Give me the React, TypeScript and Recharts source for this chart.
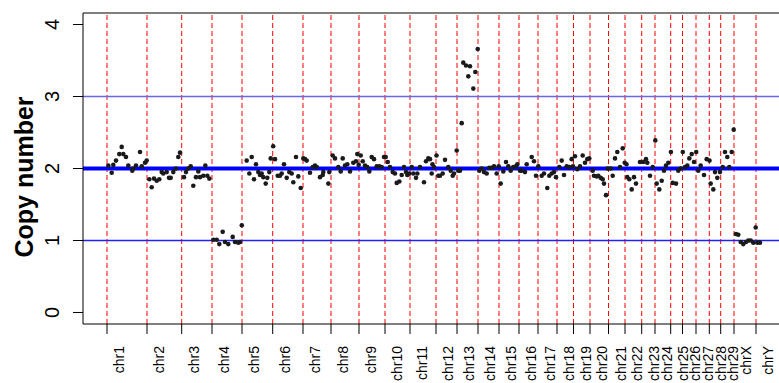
import React from 'react';
import { ScatterChart, Scatter, XAxis, YAxis, ReferenceLine } from 'recharts';

const chromNames = [
  'chr1', 'chr2', 'chr3', 'chr4', 'chr5', 'chr6', 'chr7', 'chr8', 'chr9', 'chr10',
  'chr11', 'chr12', 'chr13', 'chr14', 'chr15', 'chr16', 'chr17', 'chr18', 'chr19', 'chr20',
  'chr21', 'chr22', 'chr23', 'chr24', 'chr25', 'chr26', 'chr27', 'chr28', 'chr29', 'chrX', 'chrY'
];
const chromStarts = [
  24, 64, 98.7, 129, 159, 189.7, 220, 248, 276, 302,
  327, 353, 374, 395, 416, 436, 455, 474, 490.5, 507,
  525.5, 542, 558.7, 572, 587.7, 599.5, 613, 626.3, 637.7, 651, 673
];

// genome position of each probe (same units as chromStarts)
const probePos = [
  25.3, 28.7, 30.3, 33, 36.3, 38.7, 40.3, 43, 45.3, 49.3, 50.3, 53, 57, 58.7, 62, 63.7, // chr1
  66.3, 68.7, 71, 73.7, 76.3, 78.7, 80.3, 83.7, 86, 87.7, 90.3, 93, 95.3, 97, // chr2
  101, 103, 105.3, 107.7, 110.3, 113, 115.3, 117, 120.3, 122.3, 124.3, 126.3, // chr3
  130.3, 133.7, 136.3, 139.7, 142, 145.3, 149.7, 152, 155.3, 157, 158.8, // chr4
  163.7, 166.3, 168.7, 171, 173, 175.3, 177, 178.7, 180.3, 182.7, 184.3, 186.3, 187.7, // chr5
  190.2, 192, 194.7, 197, 198.7, 201, 203.7, 206.3, 208.7, 210.3, 213, 215.3, 217.7, // chr6
  220.3, 222, 223.7, 227, 229.7, 232, 233.7, 237, 239.7, 240.3, 245.3, 246.3, // chr7
  249.7, 252, 255.3, 257.7, 259.7, 262, 264.3, 267, 270.3, 273, 274.3, 275.7, // chr8
  277.7, 279.7, 282, 284.3, 286.3, 288.7, 291, 293.7, 296.3, 298.7, 301, // chr9
  302.7, 304.7, 307, 309.7, 312, 313.7, 316.3, 318.7, 321, 323, 324.3, 326.3, // chr10
  328.7, 330.3, 333, 334.3, 337, 341, 343, 345.3, 347, 348.7, 349.5, 351, // chr11
  353.5, 355.3, 357, 359.7, 362, 365.3, 367.7, 369.7, 371, 373.7, // chr12
  375.3, 377, 378.7, 380.3, 383, 385.3, 387, 390.3, 392.3, 394.7, // chr13
  396.3, 398.7, 401, 403.7, 406.3, 408.7, 411, 413.7, 415.7, // chr14
  417.7, 420.3, 423, 425.3, 427.7, 430.3, 433, 434.3, // chr15
  437, 438.7, 442, 443.7, 448.7, 451, 453, 455.3, // chr16
  458.7, 461, 464.3, 466.3, 468.7, 471, 473, // chr17
  476.3, 478.7, 481, 483.7, 486.3, 488.7, 490, // chr18
  492, 494.3, 497, 499.7, 502, 504.3, 506.3, // chr19
  509.7, 511, 513.7, 515.3, 517.7, 519.7, 521, 523, 524.7, // chr20
  527.7, 529.7, 532, 534.3, 537, 539.7, 541.7, // chr21
  543.5, 544.3, 546.3, 548.7, 551, 553, 557, // chr22
  560.3, 563, 564.3, 567, 569.7, // chr23
  572.3, 573.7, 576.3, 578.7, 581, 583, 585.3, 587.9, // chr24
  589.7, 593, 595.3, 597.7, 599.8, // chr25
  602, 604.3, 606.3, 608.7, 611, 613.2, // chr26
  615.3, 617.7, 621, 623.7, 626.5, // chr27
  627.7, 630.3, 632, 634.3, 637, // chr28
  639.7, 642, 644.3, 646.3, 648.7, 650.7, // chr29
  653, 655.3, 657.7, 660.3, 663, 665.3, 667.7, 670.3, 672.7, // chrX
  674.3, 677 // chrY
];

const copyNumbers = [
  2.04, 1.94, 2.05, 2.11, 2.2, 2.3, 2.2, 2.16, 2.04, 1.97, 2.0, 2.04, 2.23, 2.03, 2.08, 2.11,
  1.85, 1.74, 1.86, 1.83, 1.85, 1.95, 1.93, 1.95, 1.87, 1.87, 1.95, 2.0, 2.16, 2.22,
  1.88, 1.95, 2.0, 2.03, 1.76, 1.88, 1.96, 1.88, 1.9, 2.04, 1.9, 1.86,
  1.01, 1.01, 0.95, 1.12, 0.98, 0.95, 1.05, 0.98, 0.97, 0.98, 1.21,
  2.11, 1.93, 2.16, 1.85, 2.06, 1.95, 1.91, 1.93, 1.88, 1.79, 1.87, 1.95, 2.14,
  2.31, 2.13, 1.9, 1.9, 1.93, 2.06, 1.87, 1.95, 1.93, 1.81, 2.16, 1.89, 1.73,
  2.14, 2.13, 2.11, 1.94, 2.02, 2.04, 2.02, 1.88, 1.91, 1.95, 1.79, 1.95,
  2.18, 2.14, 2.02, 1.96, 2.14, 2.04, 2.06, 1.96, 2.08, 2.1, 2.2, 2.05,
  2.18, 2.1, 2.04, 2.02, 1.96, 2.16, 2.13, 2.03, 2.03, 2.02, 2.16,
  2.16, 2.09, 2.02, 1.95, 1.93, 1.8, 1.82, 1.91, 2.02, 1.95, 1.91, 1.93,
  2.02, 1.93, 1.87, 1.93, 2.02, 1.81, 2.1, 2.14, 2.13, 1.93, 2.06, 2.02,
  2.18, 1.9, 1.9, 1.93, 2.12, 2.02, 1.97, 1.9, 1.93, 2.25,
  1.97, 1.97, 2.63, 3.47, 3.43, 3.28, 3.42, 3.11, 3.34, 3.66,
  1.97, 2.0, 1.95, 1.93, 2.01, 2.01, 2.03, 1.93, 2.03,
  1.79, 1.96, 2.09, 2.03, 1.97, 2.02, 2.03, 2.06,
  1.97, 1.97, 1.95, 2.06, 2.16, 2.1, 1.9, 2.03,
  1.9, 1.93, 1.73, 1.9, 1.93, 1.95, 1.88,
  2.02, 2.11, 1.91, 2.03, 2.02, 2.13, 2.03,
  2.17, 1.99, 2.03, 2.18, 2.08, 2.13, 2.14,
  1.97, 1.9, 1.89, 1.9, 1.87, 1.85, 1.79, 1.63, 2.0,
  2.0, 1.9, 2.14, 2.23, 2.02, 2.28, 2.08,
  2.06, 1.88, 1.85, 1.71, 1.88, 1.79, 2.09,
  2.09, 2.13, 2.08, 1.9, 2.02,
  2.39, 1.79, 1.71, 1.83, 1.97, 2.04, 2.08, 2.23,
  1.8, 1.79, 1.97, 2.0, 2.23,
  2.02, 2.04, 2.14, 2.2, 2.09, 2.23,
  1.97, 2.04, 1.91, 2.13, 2.11,
  1.79, 1.71, 1.95, 1.87, 1.95,
  2.02, 2.23, 2.16, 2.02, 2.23, 2.54,
  1.09, 1.08, 0.98, 0.95, 0.98, 1.0, 1.0, 0.97, 1.18,
  0.97, 0.97
];

const yTicks = [0, 1, 2, 3, 4];

const data = probePos.map((pos, i) => ({ pos, cn: copyNumbers[i] }));

const FONT = '"Liberation Sans", Arial, Helvetica, sans-serif';

function ChromTick(props: any) {
  const { x, y, payload } = props;
  const idx = chromStarts.indexOf(payload.value);
  const name = idx >= 0 ? chromNames[idx] : '';
  return (
    <text
      transform={`translate(${x + 12},${y + 10}) rotate(-90)`}
      textAnchor="end"
      dominantBaseline="central"
      fontSize={14}
      fontFamily={FONT}
      fill="#000"
    >
      {name}
    </text>
  );
}

function CnTick(props: any) {
  const { x, y, payload } = props;
  return (
    <text
      transform={`translate(${x - 12},${y}) rotate(-90)`}
      textAnchor="middle"
      fontSize={20}
      fontFamily={FONT}
      fill="#000"
    >
      {payload.value}
    </text>
  );
}

function YTitle() {
  return (
    <text
      transform="translate(33,177) rotate(-90)"
      textAnchor="middle"
      fontSize={25}
      fontWeight="bold"
      fontFamily={FONT}
      fill="#000"
    >
      Copy number
    </text>
  );
}

const Dot = (props: any) => <circle cx={props.cx} cy={props.cy} r={2.3} fill="#1a1a1a" />;

export default function App() {
  return (
    <div style={{ position: 'fixed', left: 0, top: 0, width: 779, height: 383, overflow: 'hidden', background: '#fff' }}>
      <ScatterChart width={790} height={383} margin={{ top: 13, right: 4, bottom: 0, left: 0 }}>
        <XAxis
          type="number"
          dataKey="pos"
          domain={[0, 703]}
          ticks={chromStarts}
          interval={0}
          tick={<ChromTick />}
          tickSize={10}
          tickMargin={2}
          height={59}
          stroke="#000"
          allowDataOverflow
        />
        <YAxis
          type="number"
          dataKey="cn"
          domain={[-0.16, 4.16]}
          ticks={yTicks}
          tick={<CnTick />}
          tickSize={10}
          tickMargin={2}
          width={83}
          stroke="#000"
          allowDataOverflow
          label={<YTitle />}
        />
        <ReferenceLine y={4.16} stroke="#000" strokeWidth={1} />
        {chromStarts.map((s) => (
          <ReferenceLine key={s} x={s} stroke="#ff0000" strokeWidth={1} strokeDasharray="5 3" />
        ))}
        <ReferenceLine y={3} stroke="#6666e6" strokeWidth={1.5} />
        <ReferenceLine y={1} stroke="#2020ff" strokeWidth={1.5} />
        <ReferenceLine y={2} stroke="#0000ff" strokeWidth={4} />
        <Scatter data={data} shape={Dot} isAnimationActive={false} />
      </ScatterChart>
    </div>
  );
}
